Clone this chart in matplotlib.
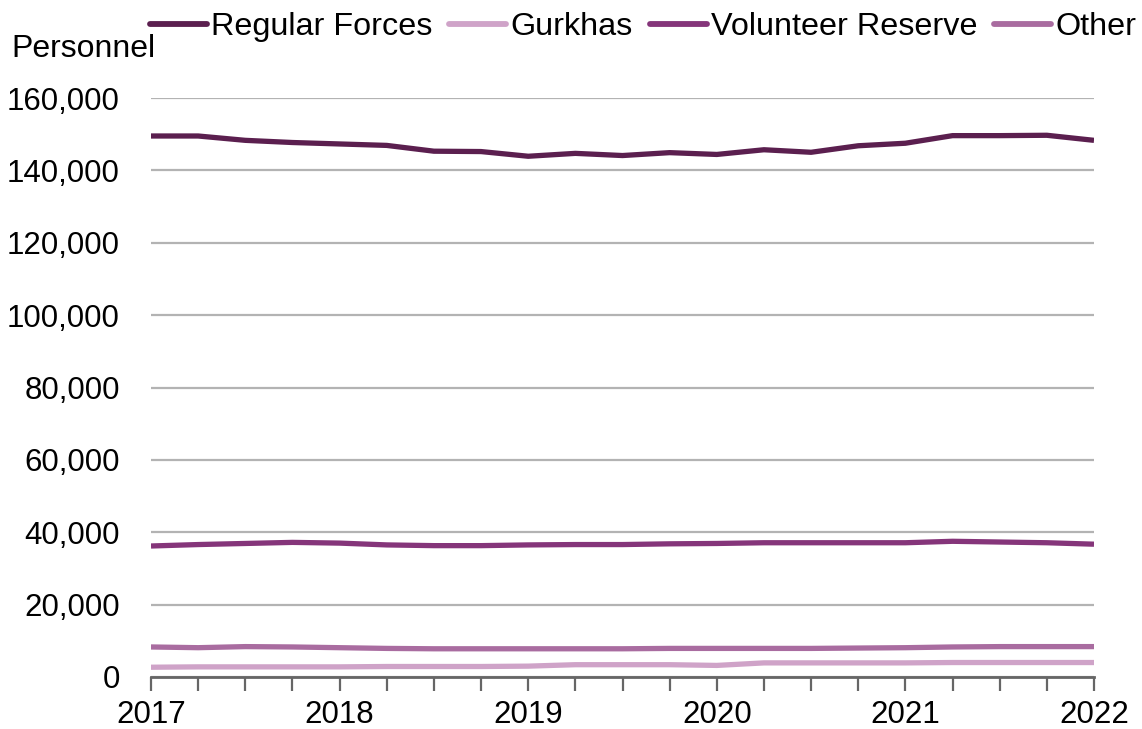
import matplotlib
matplotlib.use("Agg")
import matplotlib.pyplot as plt
from matplotlib.ticker import FuncFormatter, MultipleLocator

plt.rcParams['font.family'] = ['Liberation Sans', 'DejaVu Sans']

# quarterly figures, 2017 Q1 .. 2022 Q1
years = ['2017', '2018', '2019', '2020', '2021', '2022']
regular = [149500, 149500, 148300, 147700, 147300, 146900, 145300, 145200, 143900, 144700, 144100,
           144900, 144400, 145700, 145000, 146800, 147500, 149600, 149600, 149700, 148300]
gurkhas = [2700, 2800, 2800, 2800, 2800, 2900, 2900, 2900, 3000, 3400, 3400,
           3400, 3200, 3900, 3900, 3900, 3900, 4000, 4000, 4000, 4000]
volunteer = [36200, 36600, 36900, 37200, 37000, 36500, 36300, 36300, 36500, 36600, 36600,
             36800, 36900, 37100, 37100, 37100, 37100, 37500, 37300, 37100, 36700]
other = [8300, 8100, 8400, 8300, 8100, 7900, 7800, 7800, 7800, 7800, 7800,
         7900, 7900, 7900, 7900, 8000, 8100, 8300, 8400, 8400, 8400]

series = [('Regular Forces', regular, '#5b1f4f'),
          ('Gurkhas', gurkhas, '#cfa3c8'),
          ('Volunteer Reserve', volunteer, '#85357a'),
          ('Other', other, '#a96ca0')]

fig = plt.figure(figsize=(11.42, 7.29), dpi=100)
ax = fig.add_axes([151 / 1142, 1 - 677 / 729, (1094 - 151) / 1142, (677 - 98) / 729])

x = list(range(len(regular)))
for name, vals, col in series:
    ax.plot(x, vals, color=col, lw=3.8, label=name, solid_capstyle='butt')

ax.set_xlim(0, len(regular) - 1)
ax.set_ylim(0, 160000)
ax.yaxis.set_major_locator(MultipleLocator(20000))
ax.yaxis.set_major_formatter(FuncFormatter(lambda v, p: f"{int(v):,}"))
ax.grid(axis='y', color='#b3b3b3', lw=1.6)
ax.set_axisbelow(True)

ax.set_xticks(range(0, len(regular), 4))
ax.set_xticklabels(years)
ax.set_xticks(range(len(regular)), minor=True)

for s in ['top', 'right', 'left']:
    ax.spines[s].set_visible(False)
ax.spines['bottom'].set_color('#666666')
ax.spines['bottom'].set_linewidth(2)
ax.tick_params(axis='y', length=0, labelsize=22.5, pad=22.5)
ax.tick_params(axis='x', which='both', length=10, width=1.6, color='#666666', labelsize=22.5, pad=6.5)

fig.text(11 / 1142, 1 - 49 / 729, 'Personnel', fontsize=23, va='center', ha='left')

leg = fig.legend(loc='center left', bbox_to_anchor=(150 / 1142, 1 - 27 / 729), ncol=4, frameon=False,
                 fontsize=23.3, handlelength=1.76, handletextpad=0.13, columnspacing=0.52,
                 borderaxespad=0, borderpad=0)
for h in leg.get_lines():
    h.set_linewidth(4.2)
    h.set_solid_capstyle('round')

fig.savefig('out.png', dpi=100)
